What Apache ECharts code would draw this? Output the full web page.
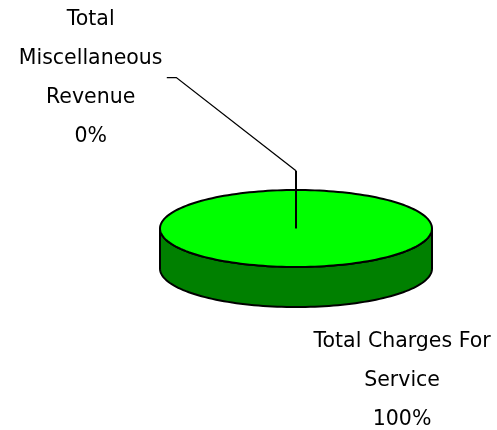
<!DOCTYPE html>
<html>
 <head>
  <title>Revenue pie</title>
  <script src="https://cdn.jsdelivr.net/npm/echarts@6/dist/echarts.min.js"></script>
  <style>
    html, body, #container {
    width: 100%;
    height: 100%;
    margin: 0;
    padding: 0;
    background: #fff;
    }
  </style>
 </head>

<body>
  <div id="container"></div>
  <script>

    // data
    var categories = ['Total Charges For\nService', 'Total\nMiscellaneous\nRevenue'];
    var values = [100, 0];

    // look
    var topColors = ['#00ff00', '#9999ff'];
    var sideColors = ['#008000', '#4c4c80'];
    var depth = 1.04;                         // pie thickness, in y units
    var labelPos = [[0.78, -3.94], [-1.51, 3.91]];
    var leaders = [null, [[0, 0], [0, 1.5]], [[0, 1.5], [-0.88, 3.92], [-0.95, 3.92]]];

    var total = values.reduce(function (a, b) { return a + b; }, 0);

    function renderItem(params, api) {
      var i = params.dataIndex;
      var start = 0;
      for (var j = 0; j < i; j++) start += values[j] / total * 360;
      var sweep = api.value(1) / total * 360;
      var end = start + sweep;

      function pt(deg, dy) {
        var a = deg * Math.PI / 180;
        return api.coord([Math.sin(a), Math.cos(a) - (dy || 0)]);
      }
      function arc(a0, a1, dy) {
        var pts = [];
        var n = Math.max(2, Math.ceil(Math.abs(a1 - a0) / 2));
        for (var k = 0; k <= n; k++) pts.push(pt(a0 + (a1 - a0) * k / n, dy));
        return pts;
      }

      var children = [];
      if (sweep > 0) {
        // front side wall
        var s = Math.max(start, 90), e = Math.min(end, 270);
        if (e > s) {
          var side = arc(s, e, 0).concat(arc(e, s, depth));
          children.push({
            type: 'polygon', z2: 1,
            shape: { points: side },
            style: { fill: sideColors[i], stroke: '#000', lineWidth: 2 }
          });
        }
        // top face
        var top = sweep >= 359.99 ? arc(0, 360, 0) : [api.coord([0, 0])].concat(arc(start, end, 0));
        children.push({
          type: 'polygon', z2: 2,
          shape: { points: top },
          style: { fill: topColors[i], stroke: '#000', lineWidth: 2 }
        });
      }

      // leader line for thin slices
      if (i === 1) {
        children.push({
          type: 'polyline', z2: 3,
          shape: { points: leaders[1].map(function (p) { return api.coord(p); }) },
          style: { stroke: '#000', lineWidth: 2, fill: null }
        });
        children.push({
          type: 'polyline', z2: 3,
          shape: { points: leaders[2].map(function (p) { return api.coord(p); }) },
          style: { stroke: '#000', lineWidth: 1.3, fill: null }
        });
      }

      var lp = api.coord(labelPos[i]);
      var pct = Math.round(api.value(1) / total * 100) + '%';
      children.push({
        type: 'text', z2: 4,
        style: {
          text: categories[i] + '\n' + pct,
          x: lp[0], y: lp[1],
          align: 'center', verticalAlign: 'middle',
          fontFamily: 'DejaVu Sans', fontSize: 20.5, lineHeight: 39,
          fill: '#000'
        }
      });

      return { type: 'group', children: children };
    }

    var chartDom = document.getElementById('container');
    var myChart = echarts.init(chartDom);

    var options = {
      animation: false,
      grid: { left: 160, right: 65, top: 190, bottom: 163 },
      xAxis: { type: 'value', min: -1, max: 1, show: false },
      yAxis: { type: 'value', min: -1, max: 1, show: false },
      series: [
        {
          type: 'custom',
          renderItem: renderItem,
          clip: false,
          data: values.map(function (v, i) { return [i, v]; })
        }
      ]
    };

    myChart.setOption(options);
  </script>
</body>
</html>
